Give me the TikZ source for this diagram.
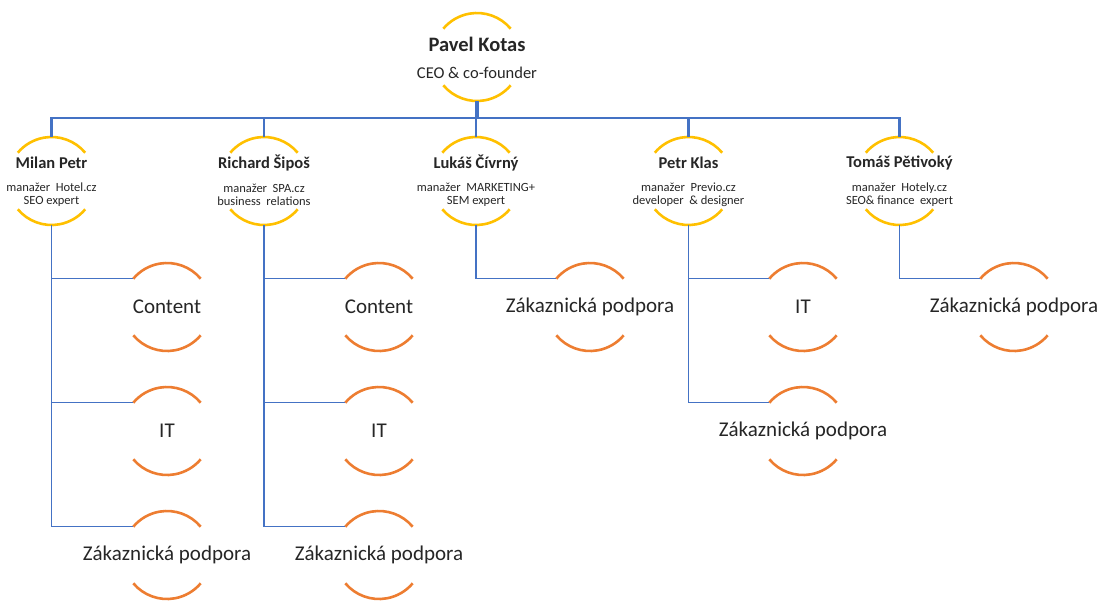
\documentclass[tikz,border=0pt]{standalone}
\usepackage{fontspec}
\setmainfont{Carlito}
\definecolor{gold}{HTML}{FFC000}
\definecolor{org}{HTML}{ED7D31}
\definecolor{blu}{HTML}{4472C4}
\definecolor{txt}{HTML}{262626}
\begin{document}
\begin{tikzpicture}[x=1pt,y=-1pt,
  ring/.style={circle,minimum size=88pt,inner sep=0pt,outer sep=0pt},
  goldarc/.style={draw=gold,line width=2.6pt},
  orgarc/.style={draw=org,line width=2.6pt},
  conn/.style={draw=blu,line width=1.4pt},
  busline/.style={draw=blu,line width=2.2pt},
  ceoline/.style={draw=blu,line width=4pt},
  bigname/.style={font=\bfseries\fontsize{20.5}{22}\selectfont,text=txt,inner sep=0pt},
  bigsub/.style={font=\fontsize{16.5}{18}\selectfont,text=txt,inner sep=0pt},
  pname/.style={font=\bfseries\fontsize{16.5}{18}\selectfont,text=txt,inner sep=0pt},
  psub/.style={font=\fontsize{12.5}{13}\selectfont,text=txt,inner sep=0pt,align=center},
  leaftxt/.style={font=\fontsize{21}{23}\selectfont,text=txt,inner sep=0pt}
]
\useasboundingbox (0,0) rectangle (1103,603);

% level 1
\node[ring] (ceo) at (477,57) {};
\node[bigname] (ceo-n) at ([yshift=13pt]ceo.center) {Pavel Kotas};
\node[bigsub] (ceo-s) at ([yshift=-16pt]ceo.center) {CEO \& co-founder};

% level 2
\node[ring] (milan) at (51.5,181) {};
\node[ring] (richard) at (264,181) {};
\node[ring] (lukas) at (476,181) {};
\node[ring] (petr) at (688.5,181) {};
\node[ring] (tomas) at (899.5,181) {};

\node[pname] (milan-n) at ([yshift=18pt]milan.center) {Milan Petr};
\node[psub] (milan-s) at ([yshift=-13.5pt]milan.center) {manažer\ \ Hotel.cz\\SEO expert};
\node[pname] (richard-n) at ([yshift=18pt]richard.center) {Richard Šipoš};
\node[psub] (richard-s) at ([yshift=-13.5pt]richard.center) {manažer\ \ SPA.cz\\business\ \ relations};
\node[pname] (lukas-n) at ([yshift=18pt]lukas.center) {Lukáš Čívrný};
\node[psub] (lukas-s) at ([yshift=-13.5pt]lukas.center) {manažer\ \ MARKETING+\\SEM expert};
\node[pname] (petr-n) at ([yshift=18pt]petr.center) {Petr Klas};
\node[psub] (petr-s) at ([yshift=-13.5pt]petr.center) {manažer\ \ Previo.cz\\developer\ \ \& designer};
\node[pname] (tomas-n) at ([yshift=18pt]tomas.center) {Tomáš Pětivoký};
\node[psub] (tomas-s) at ([yshift=-13.5pt]tomas.center) {manažer\ \ Hotely.cz\\SEO\& finance\ \ expert};

% level 3
\node[ring] (m1) at (167,307) {};
\node[ring] (m2) at (167,431) {};
\node[ring] (m3) at (167,555) {};
\node[ring] (r1) at (379,307) {};
\node[ring] (r2) at (379,431) {};
\node[ring] (r3) at (379,555) {};
\node[ring] (l1) at (590,307) {};
\node[ring] (p1) at (803,307) {};
\node[ring] (p2) at (803,431) {};
\node[ring] (t1) at (1014,307) {};

\node[leaftxt] (m1-t) at (m1.center) {Content};
\node[leaftxt] (m2-t) at (m2.center) {IT};
\node[leaftxt] (m3-t) at (m3.center) {Zákaznická podpora};
\node[leaftxt] (r1-t) at (r1.center) {Content};
\node[leaftxt] (r2-t) at (r2.center) {IT};
\node[leaftxt] (r3-t) at (r3.center) {Zákaznická podpora};
\node[leaftxt] (l1-t) at (l1.center) {Zákaznická podpora};
\node[leaftxt] (p1-t) at (p1.center) {IT};
\node[leaftxt] (p2-t) at (p2.center) {Zákaznická podpora};
\node[leaftxt] (t1-t) at (t1.center) {Zákaznická podpora};

% arcs
\foreach \n in {ceo,milan,richard,lukas,petr,tomas}{
  \draw[goldarc] (\n.40) arc[start angle=40,end angle=140,radius=44pt];
  \draw[goldarc] (\n.220) arc[start angle=220,end angle=320,radius=44pt];
}
\foreach \n in {m1,m2,m3,r1,r2,r3,l1,p1,p2,t1}{
  \draw[orgarc] (\n.40) arc[start angle=40,end angle=140,radius=44pt];
  \draw[orgarc] (\n.220) arc[start angle=220,end angle=320,radius=44pt];
}

% connectors
\coordinate (bus) at (477,118);
\draw[busline] (milan.north) |- (bus) -| (tomas.north);
\draw[busline] (richard.north) -- (richard.north |- bus);
\draw[busline] (lukas.north) -- (lukas.north |- bus);
\draw[busline] (petr.north) -- (petr.north |- bus);
\draw[ceoline] (ceo.south) -- (bus);

\draw[conn] (milan.south) |- (m1.140);
\draw[conn] (milan.south) |- (m2.140);
\draw[conn] (milan.south) |- (m3.140);
\draw[conn] (richard.south) |- (r1.140);
\draw[conn] (richard.south) |- (r2.140);
\draw[conn] (richard.south) |- (r3.140);
\draw[conn] (lukas.south) |- (l1.140);
\draw[conn] (petr.south) |- (p1.140);
\draw[conn] (petr.south) |- (p2.140);
\draw[conn] (tomas.south) |- (t1.140);
\end{tikzpicture}
\end{document}
